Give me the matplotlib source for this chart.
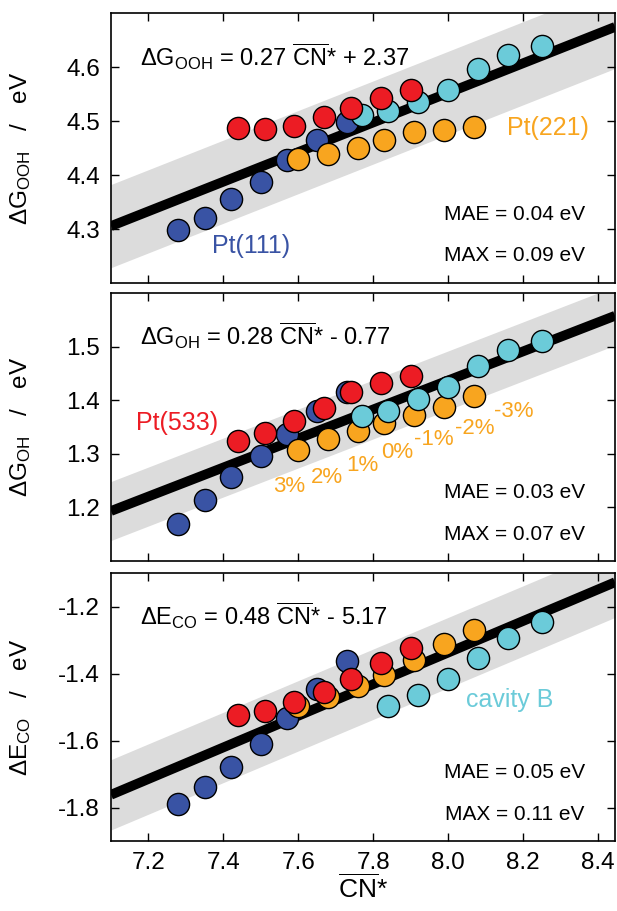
import numpy as np
import matplotlib
matplotlib.use("Agg")
from matplotlib import pyplot as plt

plt.rcParams['font.family'] = ['Liberation Sans', 'DejaVu Sans']
plt.rcParams['mathtext.fontset'] = 'custom'
plt.rcParams['mathtext.rm'] = 'Liberation Sans'
plt.rcParams['mathtext.it'] = 'Liberation Sans:italic'
plt.rcParams['mathtext.bf'] = 'Liberation Sans:bold'

# CN* (generalised coordination number) for every family, strain +3% ... -3%
cn_111 = [7.28, 7.35, 7.42, 7.50, 7.57, 7.65, 7.73]
cn_533 = [7.44, 7.51, 7.59, 7.67, 7.74, 7.82, 7.90]
cn_221 = [7.60, 7.68, 7.76, 7.83, 7.91, 7.99, 8.07]
cn_cav = [7.77, 7.84, 7.92, 8.00, 8.08, 8.16, 8.25]

# dG_OOH (eV)
ooh_111 = [4.298, 4.320, 4.356, 4.387, 4.427, 4.465, 4.499]
ooh_533 = [4.487, 4.485, 4.491, 4.507, 4.524, 4.543, 4.558]
ooh_221 = [4.429, 4.439, 4.450, 4.465, 4.479, 4.484, 4.489]
ooh_cav = [4.512, 4.518, 4.536, 4.558, 4.596, 4.622, 4.639]

# dG_OH (eV)
oh_111 = [1.169, 1.213, 1.257, 1.295, 1.337, 1.379, 1.415]
oh_533 = [1.323, 1.339, 1.362, 1.386, 1.416, 1.432, 1.446]
oh_221 = [1.308, 1.328, 1.342, 1.357, 1.373, 1.387, 1.407]
oh_cav = [1.370, 1.379, 1.403, 1.425, 1.464, 1.494, 1.511]

# dE_CO (eV)
co_111 = [-1.789, -1.739, -1.678, -1.610, -1.534, -1.445, -1.363]
co_533 = [-1.524, -1.511, -1.484, -1.455, -1.415, -1.370, -1.324]
co_221 = [-1.496, -1.470, -1.438, -1.403, -1.360, -1.313, -1.271]
co_cav = [-1.497, -1.465, -1.417, -1.353, -1.293, -1.245]  # 6 visible points

# fitted lines as drawn, and band half widths
slopes = [0.274, 0.2706, 0.4714]
intercepts = [2.360, -0.728, -5.109]
band_half = [0.077, 0.055, 0.105]

equations = [r'$\Delta\mathrm{G}_{\mathrm{OOH}}$ = 0.27 $\overline{\mathrm{CN}}$* + 2.37',
             r'$\Delta\mathrm{G}_{\mathrm{OH}}$ = 0.28 $\overline{\mathrm{CN}}$* - 0.77',
             r'$\Delta\mathrm{E}_{\mathrm{CO}}$ = 0.48 $\overline{\mathrm{CN}}$* - 5.17']
ylabels = [r'$\Delta\mathrm{G}_{\mathrm{OOH}}$   /   eV',
           r'$\Delta\mathrm{G}_{\mathrm{OH}}$   /   eV',
           r'$\Delta\mathrm{E}_{\mathrm{CO}}$   /   eV']
mae = ['0.04', '0.03', '0.05']
maxe = ['0.09', '0.07', '0.11']
ylims = [(4.2, 4.7), (1.1, 1.6), (-1.9, -1.1)]
yticks = [[4.3, 4.4, 4.5, 4.6], [1.2, 1.3, 1.4, 1.5], [-1.8, -1.6, -1.4, -1.2]]
xticks = [7.2, 7.4, 7.6, 7.8, 8.0, 8.2, 8.4]

strain_labels = ['3%', '2%', '1%', '0%', '-1%', '-2%', '-3%']
strain_x = [7.575, 7.676, 7.772, 7.863, 7.961, 8.072, 8.176]
strain_y = [1.239, 1.256, 1.278, 1.303, 1.326, 1.347, 1.379]

c_blue = '#3953a4'
c_red = '#ec1c24'
c_orange = '#f8a51f'
c_cyan = '#6bcbd9'
c_band = '#dcdcdc'

data = [(ooh_111, ooh_221, ooh_cav, ooh_533),
        (oh_111, oh_221, oh_cav, oh_533),
        (co_111, co_221, co_cav, co_533)]

fig = plt.figure(figsize=(6.17, 9.11), dpi=100)
left, width = 111 / 617, 504 / 617
rows = [(13, 283), (293, 561), (573, 841)]
xlim = (7.1, 8.446)

for i, (top, bot) in enumerate(rows):
    ax = fig.add_axes([left, 1 - bot / 911, width, (bot - top) / 911])
    xx = np.linspace(xlim[0], xlim[1], 50)
    yy = slopes[i] * xx + intercepts[i]
    ax.fill_between(xx, yy - band_half[i], yy + band_half[i], color=c_band, lw=0, zorder=1)
    ax.plot(xx, yy, color='black', lw=7, solid_capstyle='butt', zorder=2)

    y111, y221, ycav, y533 = data[i]
    kw = dict(s=255, edgecolors='black', linewidths=1.0)
    ax.scatter(cn_111, y111, color=c_blue, zorder=3, **kw)
    ax.scatter(cn_221, y221, color=c_orange, zorder=4, **kw)
    ax.scatter(cn_cav[-len(ycav):], ycav, color=c_cyan, zorder=5, **kw)
    ax.scatter(cn_533, y533, color=c_red, zorder=6, **kw)

    ax.set_xlim(xlim)
    ax.set_ylim(ylims[i])
    ax.set_xticks(xticks)
    ax.set_yticks(yticks[i])
    ax.set_yticklabels(['%.1f' % v for v in yticks[i]])
    ax.tick_params(direction='in', top=True, right=True, length=6, width=1.0,
                   labelsize=17.5, pad=8)
    for sp in ax.spines.values():
        sp.set_linewidth(1.2)
    if i < 2:
        ax.tick_params(labelbottom=False)
    else:
        ax.set_xticklabels(['%.1f' % v for v in xticks])
        ax.set_xlabel(r'$\overline{\mathrm{CN}}$*', fontsize=19, labelpad=0)

    ax.set_ylabel(ylabels[i], fontsize=17.5)
    ax.yaxis.set_label_coords(-0.155, 0.5)

    ax.text(0.058, 0.805, equations[i], transform=ax.transAxes, fontsize=17, va='baseline')
    ax.text(0.94, 0.235, 'MAE = %s eV' % mae[i], transform=ax.transAxes, fontsize=15,
            ha='right', va='baseline')
    ax.text(0.94, 0.08, 'MAX = %s eV' % maxe[i], transform=ax.transAxes, fontsize=15,
            ha='right', va='baseline')

    if i == 0:
        ax.text(7.473, 4.269, 'Pt(111)', color=c_blue, fontsize=18, ha='center', va='center')
        ax.text(8.268, 4.487, 'Pt(221)', color=c_orange, fontsize=18, ha='center', va='center')
    elif i == 1:
        ax.text(7.276, 1.357, 'Pt(533)', color=c_red, fontsize=18, ha='center', va='center')
        for lab, sx, sy in zip(strain_labels, strain_x, strain_y):
            ax.text(sx, sy, lab, color=c_orange, fontsize=16, ha='center', va='center')
    else:
        ax.text(8.164, -1.479, 'cavity B', color=c_cyan, fontsize=18, ha='center', va='center')

plt.savefig('out.png', dpi=100)
